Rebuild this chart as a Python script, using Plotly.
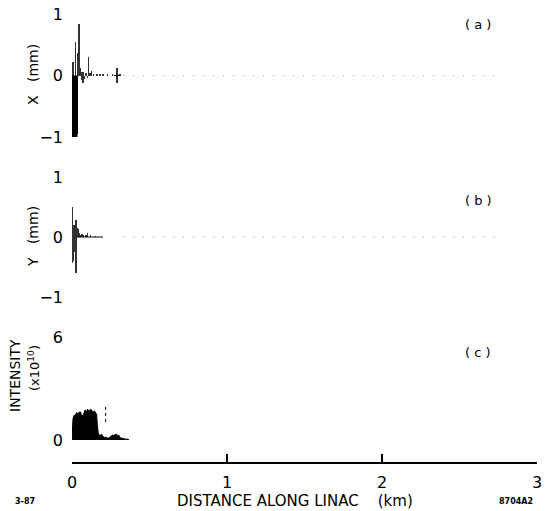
import plotly.graph_objects as go

W, H = 550, 511

# ---------------- data ----------------
# Panel (a): horizontal orbit X (mm)
x_a_dense = [0.0, 0.004, 0.008, 0.012, 0.016, 0.020, 0.024, 0.028, 0.032, 0.035]
v_a_dense = [-1.0, -1.03, -1.0, -1.02, -1.0, -0.99, -1.01, -1.0, -0.95, 0.0]
x_a_spk = [0.005, 0.024, 0.036, 0.040, 0.045, 0.050, 0.055, 0.060, 0.065, 0.070, 0.075,
           0.080, 0.090, 0.100, 0.107, 0.115, 0.125, 0.140, 0.160, 0.180, 0.200, 0.230,
           0.260, 0.290, 0.290, 0.310]
v_a_spk = [0.22, 0.55, 0.30, 0.36, 0.84, 0.25, 0.12, -0.08, 0.06, -0.12, 0.05,
           -0.06, 0.04, -0.04, 0.30, 0.04, 0.08, 0.03, 0.02, 0.02, 0.02, 0.02,
           0.02, 0.12, -0.12, 0.02]

# Panel (b): vertical orbit Y (mm)
x_b_spk = [0.002, 0.002, 0.006, 0.010, 0.014, 0.018, 0.026, 0.026, 0.030, 0.034,
           0.038, 0.042, 0.048, 0.055, 0.065, 0.075, 0.090, 0.100, 0.120, 0.150]
v_b_spk = [0.50, -0.43, -0.40, -0.32, 0.20, -0.25, 0.28, -0.60, 0.18, 0.15,
           0.14, 0.10, 0.06, 0.04, 0.05, 0.03, 0.04, 0.06, 0.02, 0.01]

# Panel (c): intensity (x10^10)
x_c = [0, 0.002, 0.006, 0.010, 0.014, 0.019, 0.024, 0.030, 0.035, 0.041, 0.046, 0.052,
       0.057, 0.062, 0.067, 0.073, 0.078, 0.084, 0.090, 0.095, 0.100, 0.106, 0.111,
       0.116, 0.121, 0.127, 0.132, 0.138, 0.143, 0.148, 0.153, 0.159, 0.163, 0.166,
       0.170, 0.176, 0.182, 0.190, 0.200, 0.210, 0.224, 0.235, 0.245, 0.255, 0.262,
       0.267, 0.275, 0.285, 0.295, 0.300, 0.310, 0.320, 0.330, 0.345, 0.363, 0.365]
y_c = [0, 0.9, 1.2, 1.35, 1.45, 1.4, 1.55, 1.6, 1.5, 1.6, 1.55, 1.65,
       1.6, 1.4, 1.45, 1.4, 1.6, 1.75, 1.7, 1.65, 1.8, 1.7, 1.75,
       1.7, 1.8, 1.75, 1.65, 1.6, 1.7, 1.65, 1.6, 1.5, 0.9, 0.45,
       0.35, 0.3, 0.25, 0.35, 0.2, 0.15, 0.15, 0.1, 0.15, 0.25, 0.3,
       0.25, 0.3, 0.35, 0.25, 0.3, 0.15, 0.1, 0.1, 0.05, 0.05, 0]
x_c_mark = [0.217, 0.217]
y_c_mark = [1.05, 2.1]

zero_x = [0.33, 2.75]
zero_y = [0, 0]

x_ticks = [0, 1, 2, 3]
y_ticks_xy = [-1, 0, 1]
y_ticks_xy_txt = ["\u22121", "0", "1"]
y_ticks_i = [0, 6]

# ---------------- layout helpers ----------------
LFT, RGT = 72, 537
FONT = "DejaVu Sans"


def py(p):
    return 1 - p / H


def px(x):
    return (x - LFT) / (RGT - LFT)


fig = go.Figure()

# panel (a)
fig.add_trace(go.Scatter(x=zero_x, y=zero_y, mode="lines", xaxis="x", yaxis="y",
                         line=dict(color="#9a9a9a", width=1, dash="1px,9px"), showlegend=False))
fig.add_trace(go.Scatter(x=x_a_dense, y=v_a_dense, mode="lines", fill="tozeroy", xaxis="x", yaxis="y",
                         line=dict(color="black", width=1, shape="hv"), fillcolor="black", showlegend=False))
fig.add_trace(go.Bar(x=x_a_spk, y=v_a_spk, width=0.003, marker=dict(color="#333", line_width=0),
                     xaxis="x", yaxis="y", showlegend=False))
fig.add_trace(go.Scatter(x=[0.27, 0.31], y=[0, 0], mode="lines", xaxis="x", yaxis="y",
                         line=dict(color="black", width=1), showlegend=False))

# panel (b)
fig.add_trace(go.Scatter(x=zero_x, y=zero_y, mode="lines", xaxis="x2", yaxis="y2",
                         line=dict(color="#9a9a9a", width=1, dash="1px,9px"), showlegend=False))
fig.add_trace(go.Bar(x=x_b_spk, y=v_b_spk, width=0.003, marker=dict(color="#333", line_width=0),
                     xaxis="x2", yaxis="y2", showlegend=False))
fig.add_trace(go.Scatter(x=[0.03, 0.2], y=[0, 0], mode="lines", xaxis="x2", yaxis="y2",
                         line=dict(color="black", width=1), showlegend=False))

# panel (c)
fig.add_trace(go.Scatter(x=x_c, y=y_c, mode="lines", fill="tozeroy", xaxis="x3", yaxis="y3",
                         line=dict(color="black", width=1), fillcolor="black", showlegend=False))
fig.add_trace(go.Scatter(x=x_c_mark, y=y_c_mark, mode="lines", xaxis="x3", yaxis="y3",
                         line=dict(color="black", width=1, dash="3px,3px"), showlegend=False))

xr = [0, 3]
hidden_x = dict(range=xr, visible=False, fixedrange=True, automargin=False)
yax_common = dict(showline=False, showgrid=False, zeroline=False, ticks="", automargin=False,
                  tickfont=dict(family=FONT, size=16, color="black"), ticklabelstandoff=8)

fig.update_layout(
    width=W, height=H,
    margin=dict(l=LFT, r=W - RGT, t=0, b=0, pad=0, autoexpand=False),
    paper_bgcolor="white", plot_bgcolor="white",
    barmode="overlay", bargap=0,
    xaxis=dict(hidden_x, anchor="y"),
    xaxis2=dict(hidden_x, anchor="y2"),
    xaxis3=dict(range=xr, anchor="free", position=py(463), showline=True, linecolor="black",
                linewidth=1.5, ticks="inside", ticklen=8, tickwidth=1.5, tickcolor="black",
                tickvals=x_ticks, ticktext=[str(t) for t in x_ticks], showgrid=False, zeroline=False,
                automargin=False,
                tickfont=dict(family=FONT, size=16, color="black"), ticklabelstandoff=5),
    yaxis=dict(yax_common, domain=[py(137), py(14)], range=[-1, 1],
               tickvals=y_ticks_xy, ticktext=y_ticks_xy_txt, anchor="x"),
    yaxis2=dict(yax_common, domain=[py(297), py(177)], range=[-1, 1],
                tickvals=y_ticks_xy, ticktext=y_ticks_xy_txt, anchor="x2"),
    yaxis3=dict(yax_common, domain=[py(440), py(337)], range=[0, 6],
                tickvals=y_ticks_i, ticktext=[str(t) for t in y_ticks_i], anchor="x3"),
)


def ann(text, x, y, size, angle=0, bold=False):
    if bold:
        text = "<b>" + text + "</b>"
    fig.add_annotation(text=text, x=px(x), y=py(y), xref="paper", yref="paper",
                       showarrow=False, textangle=angle, xanchor="center", yanchor="middle",
                       font=dict(family=FONT, size=size, color="black"))


NB = "\u00a0"
ann("X" + NB * 3 + "(mm)", 33, 75, 14, angle=-90)
ann("Y" + NB * 3 + "(mm)", 33, 237, 14, angle=-90)
ann("INTENSITY", 15, 376, 14, angle=-90)
ann("(x10<sup>10</sup>)", 34, 368, 13, angle=-90)
ann("(" + NB + "a" + NB + ")", 478, 25, 13)
ann("(" + NB + "b" + NB + ")", 478, 200, 13)
ann("(" + NB + "c" + NB + ")", 478, 352, 13)
ann("DISTANCE" + NB + "ALONG" + NB + "LINAC" + NB * 4 + "(km)", 295, 501, 15)
ann("3-87", 25, 501, 8, bold=True)
ann("8704A2", 516, 501, 8, bold=True)

fig.write_html("out.html")
